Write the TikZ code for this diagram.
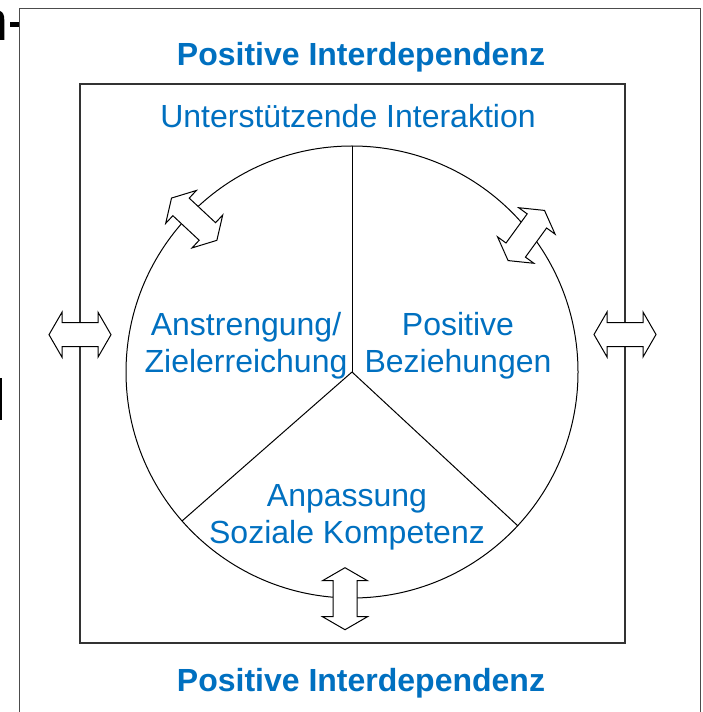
\documentclass[tikz,border=0pt]{standalone}
\usepackage{fontspec}
\setmainfont{Liberation Sans}
\definecolor{tblue}{RGB}{0,112,192}
\newcommand{\blockarrow}[3]{%
  \draw[arrowshape, shift={#2}, rotate=#3]
    (-31,0) -- (-18,-22.5) -- (-18,-12) -- (18,-12) -- (18,-22.5) -- (31,0)
    -- (18,22.5) -- (18,12) -- (-18,12) -- (-18,22.5) -- cycle;
  \coordinate (#1) at #2;}
\begin{document}
\begin{tikzpicture}[x=0.75pt,y=-0.75pt,
  outerframe/.style={draw=black!70,line width=1.3pt},
  innerframe/.style={draw=black!80,line width=1.1pt},
  thinline/.style={draw=black,line width=0.75pt},
  arrowshape/.style={draw=black,fill=white,line width=0.75pt,line join=miter},
  headtext/.style={text=tblue,font=\fontsize{24}{27.5}\selectfont\bfseries,inner sep=0pt},
  lbl/.style={text=tblue,font=\fontsize{24}{27.5}\selectfont,align=center,inner sep=0pt}]
\useasboundingbox (0,0) rectangle (702,712);
\clip (0,0) rectangle (702,712);
\fill[white] (0,0) rectangle (702,712);
% fragments at the left edge
\fill[black] (0,11) .. controls (3,12) and (4.3,15) .. (4.3,20) -- (4.3,40) -- (0,40) -- cycle;
\fill[black] (10,21.7) rectangle (19,26.7);
\fill[black] (0,378) rectangle (1.8,420);
% frames
\draw[outerframe] (19.5,8.5) rectangle (700.5,730);
\draw[innerframe] (80,84) rectangle (625,643);
% circle and its sectors
\coordinate (c) at (352,372);
\coordinate (ctop) at (352,146);
\coordinate (cll) at (182,521);
\coordinate (clr) at (518,526);
\draw[thinline] (c) circle[radius=226];
\draw[thinline] (c) -- (ctop);
\draw[thinline] (c) -- (cll);
\draw[thinline] (c) -- (clr);
% block arrows
\blockarrow{aleft}{(80,334.7)}{0}
\blockarrow{aright}{(625,334.5)}{0}
\blockarrow{abottom}{(345,598.7)}{90}
\blockarrow{aul}{(194.2,219.2)}{137}
\blockarrow{aur}{(526.3,235.5)}{54}
% texts
\node[headtext,anchor=base] (pitop) at (361,66) {Positive Interdependenz};
\node[headtext,anchor=base] (pibot) at (361,691) {Positive Interdependenz};
\node[lbl,anchor=base] (ui) at (348,128) {Unterstützende Interaktion};
\node[lbl] (az) at (246,345.5) {Anstrengung/\\Zielerreichung};
\node[lbl] (pb) at (458,345.5) {Positive\\Beziehungen};
\node[lbl] (ask) at (347,517) {Anpassung\\Soziale Kompetenz};
\end{tikzpicture}
\end{document}
